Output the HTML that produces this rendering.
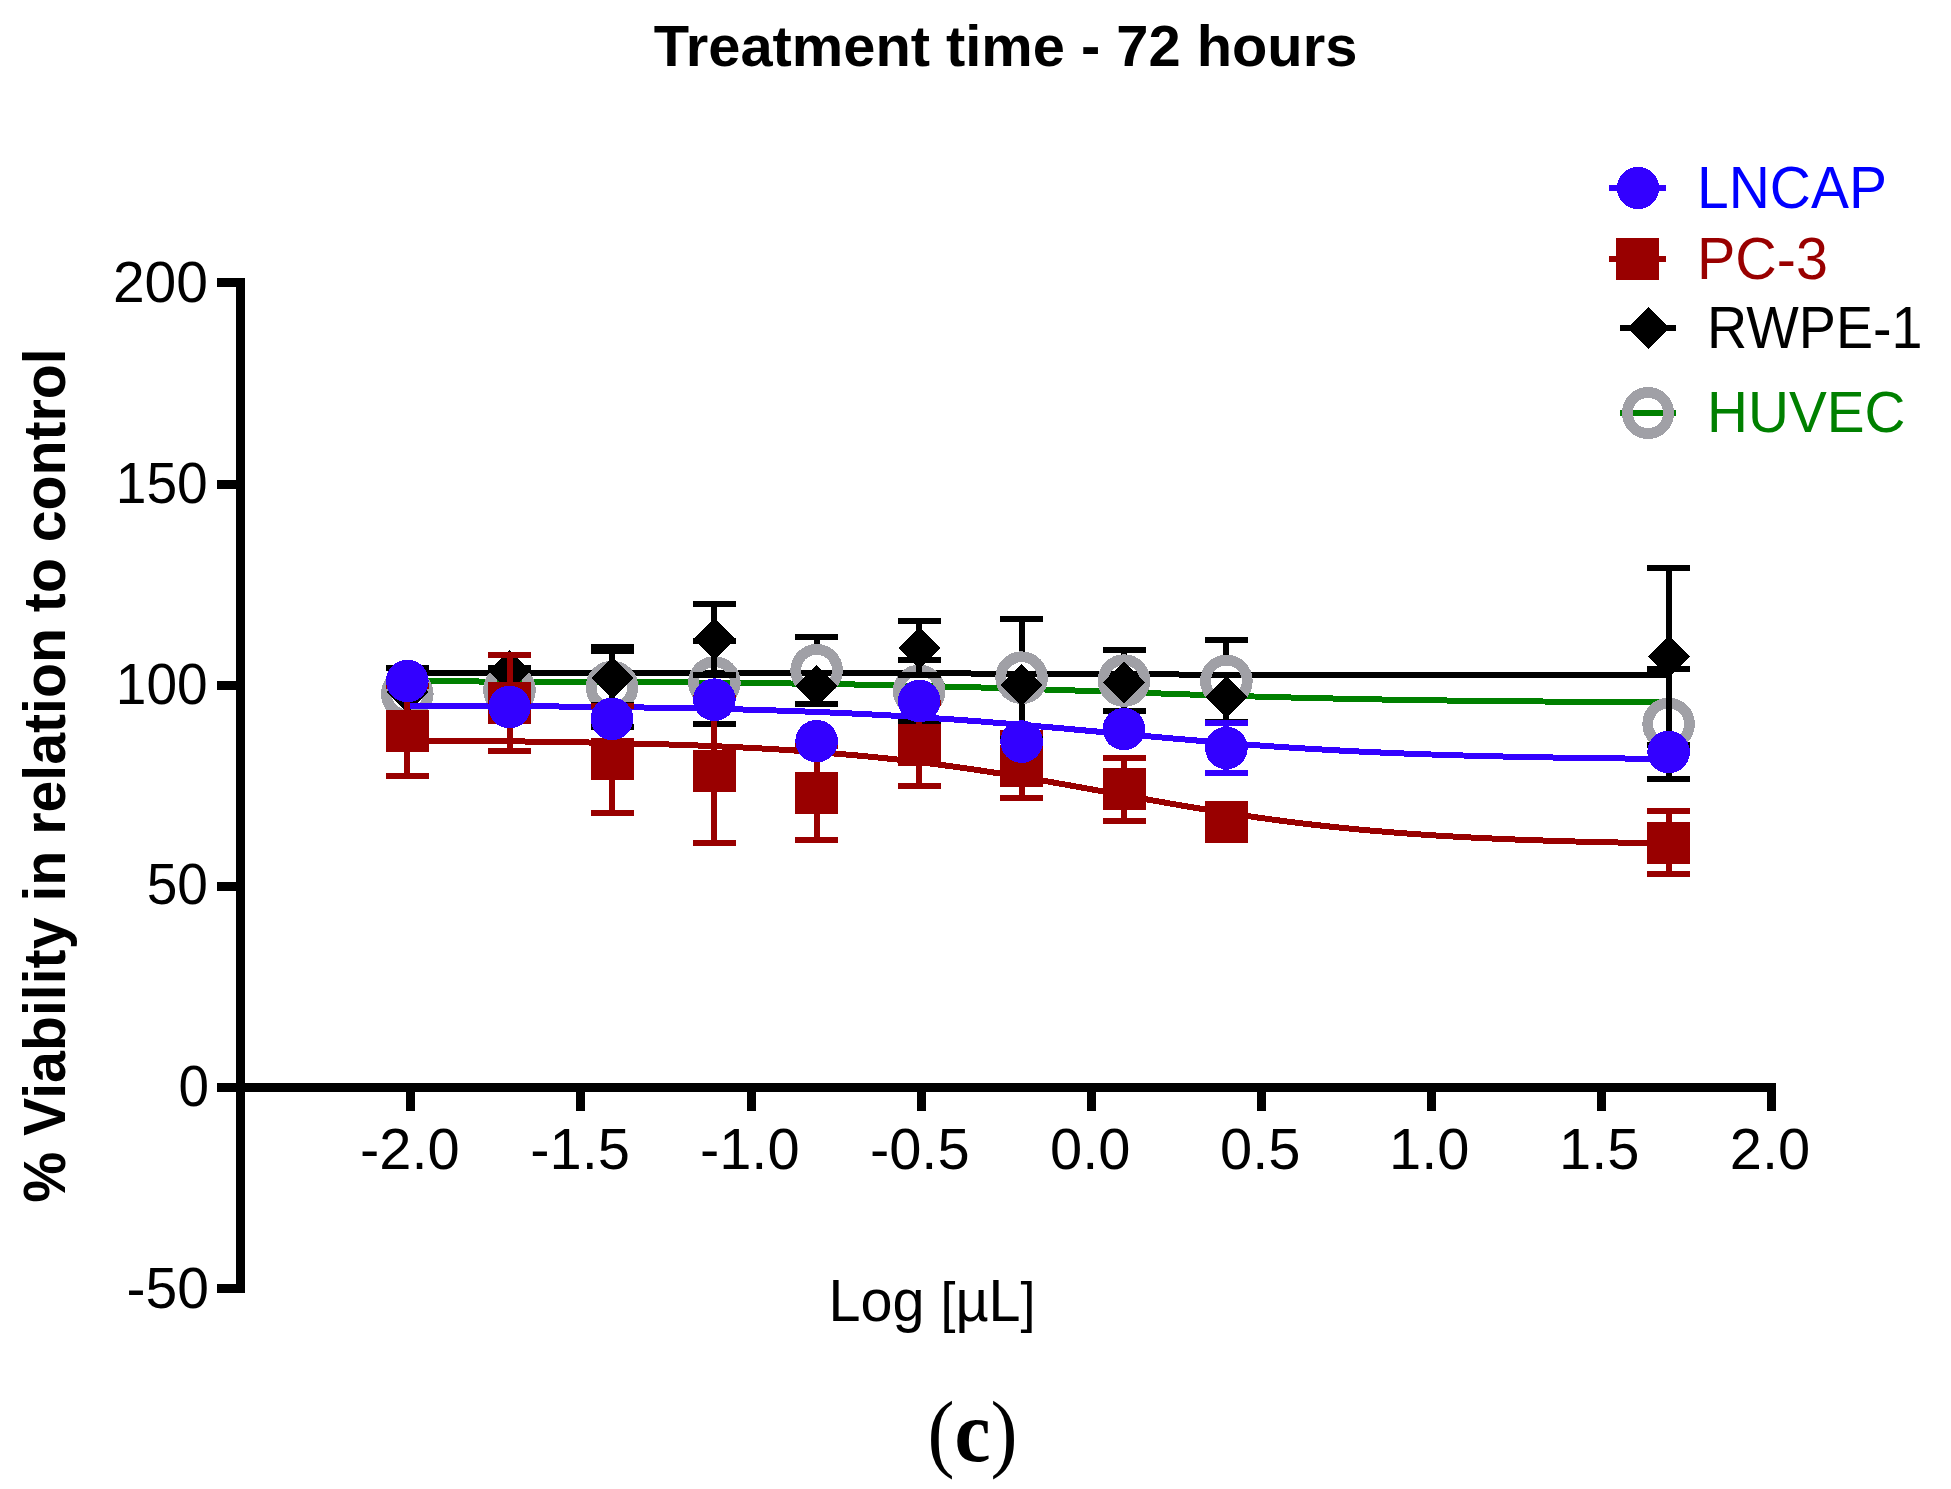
<!DOCTYPE html>
<html><head><meta charset="utf-8"><title>Treatment time - 72 hours</title>
<style>
html,body{margin:0;padding:0;background:#fff;overflow:hidden;}
svg{display:block;}
rect,circle,path{shape-rendering:crispEdges;}
text{font-family:"Liberation Sans",Arial,sans-serif;}
.tk{font-size:57px;}
.lg{font-size:57px;}
.ttl{font-size:58px;font-weight:bold;}
.yl{font-size:58px;font-weight:bold;}
.xl{font-size:59.6px;}
.pc{font-family:"Liberation Serif","Times New Roman",serif;font-size:91px;}
</style></head>
<body>
<svg width="1951" height="1489" viewBox="0 0 1951 1489">
<rect width="1951" height="1489" fill="#fff"/>
<g transform="matrix(0.99716,0,0,1.00000,4.852,0.000)"><text x="1003.5" y="66" text-anchor="middle" class="ttl">Treatment time - 72 hours</text></g>
<g transform="matrix(1.00000,0,0,1.02500,-5.000,-5.200)"><text x="1702" y="208" text-anchor="start" class="lg" fill="#0000ff">LNCAP</text></g>
<g transform="matrix(1.00820,0,0,1.02500,-18.992,-6.975)"><text x="1702" y="279" text-anchor="start" class="lg" fill="#990000">PC-3</text></g>
<g transform="matrix(0.97653,0,0,1.02500,35.305,-8.700)"><text x="1712" y="348" text-anchor="start" class="lg" fill="#000000">RWPE-1</text></g>
<g transform="matrix(0.99479,0,0,1.01220,3.943,-6.293)"><text x="1712" y="433" text-anchor="start" class="lg" fill="#008000">HUVEC</text></g>
<g transform="matrix(1.00000,0,0,1.00000,1.000,0.000)"><text x="207" y="301.5" text-anchor="end" class="tk">200</text></g>
<g transform="matrix(0.96742,0,0,0.99500,7.480,2.315)"><text x="207" y="503" text-anchor="end" class="tk">150</text></g>
<g transform="matrix(0.96629,0,0,1.00000,7.710,0.000)"><text x="207" y="704.5" text-anchor="end" class="tk">100</text></g>
<g transform="matrix(0.96610,0,0,1.00000,7.949,-1.000)"><text x="207" y="905.5" text-anchor="end" class="tk">50</text></g>
<g transform="matrix(0.96296,0,0,1.00000,9.593,0.000)"><text x="207" y="1106.5" text-anchor="end" class="tk">0</text></g>
<g transform="matrix(1.00000,0,0,1.00000,2.000,0.000)"><text x="207" y="1307.5" text-anchor="end" class="tk">-50</text></g>
<g transform="matrix(1.01505,0,0,1.00250,-6.880,-2.922)"><text x="410.5" y="1169" text-anchor="middle" class="tk">-2.0</text></g>
<g transform="matrix(1.01505,0,0,1.00250,-9.239,-2.922)"><text x="580.7" y="1169" text-anchor="middle" class="tk">-1.5</text></g>
<g transform="matrix(1.01505,0,0,1.00250,-12.513,-2.922)"><text x="751" y="1169" text-anchor="middle" class="tk">-1.0</text></g>
<g transform="matrix(1.01505,0,0,1.00250,-15.072,-2.922)"><text x="921" y="1169" text-anchor="middle" class="tk">-0.5</text></g>
<g transform="matrix(1.01505,0,0,1.00250,-17.124,-2.922)"><text x="1091" y="1169" text-anchor="middle" class="tk">0.0</text></g>
<g transform="matrix(1.01505,0,0,1.00250,-19.683,-2.922)"><text x="1261" y="1169" text-anchor="middle" class="tk">0.5</text></g>
<g transform="matrix(1.01505,0,0,1.00250,-23.257,-2.922)"><text x="1431" y="1169" text-anchor="middle" class="tk">1.0</text></g>
<g transform="matrix(1.01505,0,0,1.00250,-25.816,-2.922)"><text x="1601" y="1169" text-anchor="middle" class="tk">1.5</text></g>
<g transform="matrix(1.01505,0,0,1.00250,-27.975,-2.922)"><text x="1771.4" y="1169" text-anchor="middle" class="tk">2.0</text></g>
<g transform="matrix(1.02593,0,0,0.98721,-1.596,9.438)"><text transform="translate(65,776) rotate(-90)" text-anchor="middle" class="yl">% Viability in relation to control</text></g>
<g transform="matrix(0.96602,0,0,0.98113,31.204,24.170)"><text x="932.5" y="1322" text-anchor="middle" class="xl">Log <tspan style="font-size:55.8px">[</tspan>µL<tspan style="font-size:55.8px">]</tspan></text></g>
<g transform="matrix(0.89247,0,0,0.95122,104.570,70.244)"><text x="972.5" y="1462" text-anchor="middle" class="pc">(<tspan font-weight="bold">c</tspan>)</text></g>
<rect x="236" y="278" width="9" height="1015" fill="#000"/>
<rect x="217" y="1083" width="1559" height="9" fill="#000"/>
<rect x="217" y="278.0" width="28" height="9" fill="#000"/>
<rect x="217" y="479.5" width="28" height="9" fill="#000"/>
<rect x="217" y="681.0" width="28" height="9" fill="#000"/>
<rect x="217" y="882.0" width="28" height="9" fill="#000"/>
<rect x="217" y="1083.0" width="28" height="9" fill="#000"/>
<rect x="217" y="1284.0" width="28" height="9" fill="#000"/>
<rect x="406.0" y="1083" width="9" height="28" fill="#000"/>
<rect x="576.2" y="1083" width="9" height="28" fill="#000"/>
<rect x="746.5" y="1083" width="9" height="28" fill="#000"/>
<rect x="916.5" y="1083" width="9" height="28" fill="#000"/>
<rect x="1086.5" y="1083" width="9" height="28" fill="#000"/>
<rect x="1256.5" y="1083" width="9" height="28" fill="#000"/>
<rect x="1426.5" y="1083" width="9" height="28" fill="#000"/>
<rect x="1596.5" y="1083" width="9" height="28" fill="#000"/>
<rect x="1766.9" y="1083" width="9" height="28" fill="#000"/>
<path d="M407.3,681.38 L415.3,681.39 L423.3,681.40 L431.3,681.41 L439.3,681.42 L447.3,681.44 L455.3,681.45 L463.3,681.47 L471.3,681.48 L479.3,681.50 L487.3,681.52 L495.3,681.54 L503.3,681.56 L511.3,681.58 L519.3,681.60 L527.3,681.62 L535.3,681.65 L543.3,681.67 L551.3,681.70 L559.3,681.73 L567.3,681.76 L575.3,681.79 L583.3,681.82 L591.3,681.85 L599.3,681.89 L607.3,681.93 L615.3,681.97 L623.3,682.01 L631.3,682.05 L639.3,682.10 L647.3,682.14 L655.3,682.19 L663.3,682.25 L671.3,682.30 L679.3,682.36 L687.3,682.42 L695.3,682.48 L703.3,682.55 L711.3,682.62 L719.3,682.69 L727.3,682.76 L735.3,682.84 L743.3,682.93 L751.3,683.01 L759.3,683.10 L767.3,683.19 L775.3,683.29 L783.3,683.39 L791.3,683.50 L799.3,683.61 L807.3,683.73 L815.3,683.85 L823.3,683.97 L831.3,684.10 L839.3,684.23 L847.3,684.37 L855.3,684.52 L863.3,684.67 L871.3,684.82 L879.3,684.98 L887.3,685.15 L895.3,685.32 L903.3,685.50 L911.3,685.68 L919.3,685.87 L927.3,686.06 L935.3,686.26 L943.3,686.46 L951.3,686.68 L959.3,686.89 L967.3,687.11 L975.3,687.34 L983.3,687.57 L991.3,687.81 L999.3,688.05 L1007.3,688.29 L1015.3,688.54 L1023.3,688.80 L1031.3,689.05 L1039.3,689.32 L1047.3,689.58 L1055.3,689.85 L1063.3,690.12 L1071.3,690.39 L1079.3,690.67 L1087.3,690.95 L1095.3,691.22 L1103.3,691.50 L1111.3,691.78 L1119.3,692.06 L1127.3,692.34 L1135.3,692.62 L1143.3,692.90 L1151.3,693.18 L1159.3,693.46 L1167.3,693.73 L1175.3,694.00 L1183.3,694.27 L1191.3,694.54 L1199.3,694.80 L1207.3,695.06 L1215.3,695.32 L1223.3,695.57 L1231.3,695.81 L1239.3,696.06 L1247.3,696.29 L1255.3,696.53 L1263.3,696.76 L1271.3,696.98 L1279.3,697.20 L1287.3,697.41 L1295.3,697.61 L1303.3,697.82 L1311.3,698.01 L1319.3,698.20 L1327.3,698.39 L1335.3,698.56 L1343.3,698.74 L1351.3,698.90 L1359.3,699.07 L1367.3,699.22 L1375.3,699.38 L1383.3,699.52 L1391.3,699.66 L1399.3,699.80 L1407.3,699.93 L1415.3,700.06 L1423.3,700.18 L1431.3,700.29 L1439.3,700.40 L1447.3,700.51 L1455.3,700.62 L1463.3,700.71 L1471.3,700.81 L1479.3,700.90 L1487.3,700.99 L1495.3,701.07 L1503.3,701.15 L1511.3,701.23 L1519.3,701.30 L1527.3,701.37 L1535.3,701.44 L1543.3,701.50 L1551.3,701.56 L1559.3,701.62 L1567.3,701.68 L1575.3,701.73 L1583.3,701.78 L1591.3,701.83 L1599.3,701.87 L1607.3,701.92 L1615.3,701.96 L1623.3,702.00 L1631.3,702.04 L1639.3,702.07 L1647.3,702.11 L1655.3,702.14 L1663.3,702.17 L1668.6,702.19" fill="none" stroke="#008000" stroke-width="6"/>
<path d="M407.3,672.74 L415.3,672.74 L423.3,672.74 L431.3,672.74 L439.3,672.74 L447.3,672.74 L455.3,672.74 L463.3,672.74 L471.3,672.74 L479.3,672.74 L487.3,672.74 L495.3,672.74 L503.3,672.74 L511.3,672.75 L519.3,672.75 L527.3,672.75 L535.3,672.75 L543.3,672.75 L551.3,672.75 L559.3,672.75 L567.3,672.76 L575.3,672.76 L583.3,672.76 L591.3,672.76 L599.3,672.77 L607.3,672.77 L615.3,672.77 L623.3,672.77 L631.3,672.78 L639.3,672.78 L647.3,672.78 L655.3,672.79 L663.3,672.79 L671.3,672.80 L679.3,672.80 L687.3,672.81 L695.3,672.82 L703.3,672.82 L711.3,672.83 L719.3,672.84 L727.3,672.84 L735.3,672.85 L743.3,672.86 L751.3,672.87 L759.3,672.88 L767.3,672.89 L775.3,672.90 L783.3,672.92 L791.3,672.93 L799.3,672.94 L807.3,672.96 L815.3,672.97 L823.3,672.99 L831.3,673.01 L839.3,673.03 L847.3,673.05 L855.3,673.07 L863.3,673.09 L871.3,673.12 L879.3,673.14 L887.3,673.17 L895.3,673.19 L903.3,673.22 L911.3,673.25 L919.3,673.28 L927.3,673.31 L935.3,673.35 L943.3,673.38 L951.3,673.42 L959.3,673.45 L967.3,673.49 L975.3,673.53 L983.3,673.57 L991.3,673.61 L999.3,673.65 L1007.3,673.69 L1015.3,673.73 L1023.3,673.77 L1031.3,673.82 L1039.3,673.86 L1047.3,673.90 L1055.3,673.94 L1063.3,673.98 L1071.3,674.03 L1079.3,674.07 L1087.3,674.11 L1095.3,674.15 L1103.3,674.19 L1111.3,674.22 L1119.3,674.26 L1127.3,674.30 L1135.3,674.33 L1143.3,674.37 L1151.3,674.40 L1159.3,674.43 L1167.3,674.46 L1175.3,674.49 L1183.3,674.52 L1191.3,674.54 L1199.3,674.57 L1207.3,674.59 L1215.3,674.62 L1223.3,674.64 L1231.3,674.66 L1239.3,674.68 L1247.3,674.70 L1255.3,674.72 L1263.3,674.73 L1271.3,674.75 L1279.3,674.76 L1287.3,674.78 L1295.3,674.79 L1303.3,674.80 L1311.3,674.81 L1319.3,674.82 L1327.3,674.83 L1335.3,674.84 L1343.3,674.85 L1351.3,674.86 L1359.3,674.87 L1367.3,674.87 L1375.3,674.88 L1383.3,674.89 L1391.3,674.89 L1399.3,674.90 L1407.3,674.90 L1415.3,674.91 L1423.3,674.91 L1431.3,674.92 L1439.3,674.92 L1447.3,674.92 L1455.3,674.93 L1463.3,674.93 L1471.3,674.93 L1479.3,674.94 L1487.3,674.94 L1495.3,674.94 L1503.3,674.94 L1511.3,674.94 L1519.3,674.95 L1527.3,674.95 L1535.3,674.95 L1543.3,674.95 L1551.3,674.95 L1559.3,674.95 L1567.3,674.95 L1575.3,674.96 L1583.3,674.96 L1591.3,674.96 L1599.3,674.96 L1607.3,674.96 L1615.3,674.96 L1623.3,674.96 L1631.3,674.96 L1639.3,674.96 L1647.3,674.96 L1655.3,674.96 L1663.3,674.96 L1668.6,674.96" fill="none" stroke="#000000" stroke-width="6"/>
<circle cx="407.3" cy="694" r="20.9" fill="none" stroke="#a0a0a6" stroke-width="10.8"/>
<rect x="506.50" y="668.00" width="6" height="4.00" fill="#000000"/><rect x="488.00" y="665.00" width="43" height="6" fill="#000000"/><rect x="506.50" y="708.00" width="6" height="4.00" fill="#000000"/><rect x="488.00" y="709.00" width="43" height="6" fill="#000000"/>
<circle cx="509.5" cy="690" r="20.9" fill="none" stroke="#a0a0a6" stroke-width="10.8"/>
<rect x="609.00" y="647.00" width="6" height="22.00" fill="#000000"/><rect x="590.50" y="644.00" width="43" height="6" fill="#000000"/><rect x="609.00" y="705.00" width="6" height="22.00" fill="#000000"/><rect x="590.50" y="724.00" width="43" height="6" fill="#000000"/>
<circle cx="612" cy="687" r="20.9" fill="none" stroke="#a0a0a6" stroke-width="10.8"/>
<rect x="711.40" y="641.20" width="6" height="23.30" fill="#000000"/><rect x="692.90" y="638.20" width="43" height="6" fill="#000000"/><rect x="711.40" y="700.50" width="6" height="23.30" fill="#000000"/><rect x="692.90" y="720.80" width="43" height="6" fill="#000000"/>
<circle cx="714.4" cy="682.5" r="20.9" fill="none" stroke="#a0a0a6" stroke-width="10.8"/>
<rect x="813.60" y="636.80" width="6" height="15.50" fill="#000000"/><rect x="795.10" y="633.80" width="43" height="6" fill="#000000"/><rect x="813.60" y="688.30" width="6" height="15.50" fill="#000000"/><rect x="795.10" y="700.80" width="43" height="6" fill="#000000"/>
<circle cx="816.6" cy="670.3" r="20.9" fill="none" stroke="#a0a0a6" stroke-width="10.8"/>
<rect x="916.20" y="660.00" width="6" height="13.00" fill="#000000"/><rect x="897.70" y="657.00" width="43" height="6" fill="#000000"/><rect x="916.20" y="709.00" width="6" height="13.00" fill="#000000"/><rect x="897.70" y="719.00" width="43" height="6" fill="#000000"/>
<circle cx="919.2" cy="691" r="20.9" fill="none" stroke="#a0a0a6" stroke-width="10.8"/>
<rect x="1018.60" y="619.00" width="6" height="40.70" fill="#000000"/><rect x="1000.10" y="616.00" width="43" height="6" fill="#000000"/><rect x="1018.60" y="695.70" width="6" height="40.70" fill="#000000"/><rect x="1000.10" y="733.40" width="43" height="6" fill="#000000"/>
<circle cx="1021.6" cy="677.7" r="20.9" fill="none" stroke="#a0a0a6" stroke-width="10.8"/>
<rect x="1121.00" y="650.10" width="6" height="12.50" fill="#000000"/><rect x="1102.50" y="647.10" width="43" height="6" fill="#000000"/><rect x="1121.00" y="698.60" width="6" height="12.50" fill="#000000"/><rect x="1102.50" y="708.10" width="43" height="6" fill="#000000"/>
<circle cx="1124" cy="680.6" r="20.9" fill="none" stroke="#a0a0a6" stroke-width="10.8"/>
<rect x="1223.40" y="640.00" width="6" height="23.00" fill="#000000"/><rect x="1204.90" y="637.00" width="43" height="6" fill="#000000"/><rect x="1223.40" y="699.00" width="6" height="23.00" fill="#000000"/><rect x="1204.90" y="719.00" width="43" height="6" fill="#000000"/>
<circle cx="1226.4" cy="681" r="20.9" fill="none" stroke="#a0a0a6" stroke-width="10.8"/>
<rect x="1665.60" y="669.00" width="6" height="37.00" fill="#000000"/><rect x="1647.10" y="666.00" width="43" height="6" fill="#000000"/><rect x="1665.60" y="742.00" width="6" height="37.00" fill="#000000"/><rect x="1647.10" y="776.00" width="43" height="6" fill="#000000"/>
<circle cx="1668.6" cy="724" r="20.9" fill="none" stroke="#a0a0a6" stroke-width="10.8"/>
<rect x="404.30" y="668.00" width="6" height="6.20" fill="#000000"/><rect x="385.80" y="665.00" width="43" height="6" fill="#000000"/><rect x="404.30" y="710.20" width="6" height="6.20" fill="#000000"/><rect x="385.80" y="713.40" width="43" height="6" fill="#000000"/>
<path d="M407.3,671.2 L428.3,692.2 L407.3,713.2 L386.3,692.2 Z" fill="#000000"/>
<path d="M509.5,650 L530.5,671 L509.5,692 L488.5,671 Z" fill="#000000"/>
<rect x="609.00" y="651.00" width="6" height="9.00" fill="#000000"/><rect x="590.50" y="648.00" width="43" height="6" fill="#000000"/><rect x="609.00" y="696.00" width="6" height="9.00" fill="#000000"/><rect x="590.50" y="702.00" width="43" height="6" fill="#000000"/>
<path d="M612,657 L633,678 L612,699 L591,678 Z" fill="#000000"/>
<rect x="711.40" y="603.60" width="6" height="17.70" fill="#000000"/><rect x="692.90" y="600.60" width="43" height="6" fill="#000000"/><rect x="711.40" y="657.30" width="6" height="17.70" fill="#000000"/><rect x="692.90" y="672.00" width="43" height="6" fill="#000000"/>
<path d="M714.4,618.3 L735.4,639.3 L714.4,660.3 L693.4,639.3 Z" fill="#000000"/>
<path d="M816.6,665 L837.6,686 L816.6,707 L795.6,686 Z" fill="#000000"/>
<rect x="916.20" y="621.10" width="6" height="8.80" fill="#000000"/><rect x="897.70" y="618.10" width="43" height="6" fill="#000000"/><rect x="916.20" y="665.90" width="6" height="8.80" fill="#000000"/><rect x="897.70" y="671.70" width="43" height="6" fill="#000000"/>
<path d="M919.2,626.9 L940.2,647.9 L919.2,668.9 L898.2,647.9 Z" fill="#000000"/>
<path d="M1021.6,664 L1042.6,685 L1021.6,706 L1000.6,685 Z" fill="#000000"/>
<path d="M1124,661.5 L1145,682.5 L1124,703.5 L1103,682.5 Z" fill="#000000"/>
<path d="M1226.4,676 L1247.4,697 L1226.4,718 L1205.4,697 Z" fill="#000000"/>
<rect x="1665.60" y="568.00" width="6" height="70.50" fill="#000000"/><rect x="1647.10" y="565.00" width="43" height="6" fill="#000000"/><rect x="1665.60" y="674.50" width="6" height="70.50" fill="#000000"/><rect x="1647.10" y="742.00" width="43" height="6" fill="#000000"/>
<path d="M1668.6,635.5 L1689.6,656.5 L1668.6,677.5 L1647.6,656.5 Z" fill="#000000"/>
<path d="M407.3,740.48 L415.3,740.53 L423.3,740.58 L431.3,740.63 L439.3,740.69 L447.3,740.74 L455.3,740.81 L463.3,740.87 L471.3,740.94 L479.3,741.01 L487.3,741.09 L495.3,741.17 L503.3,741.25 L511.3,741.34 L519.3,741.44 L527.3,741.54 L535.3,741.64 L543.3,741.75 L551.3,741.87 L559.3,741.99 L567.3,742.12 L575.3,742.26 L583.3,742.40 L591.3,742.55 L599.3,742.71 L607.3,742.88 L615.3,743.06 L623.3,743.24 L631.3,743.44 L639.3,743.64 L647.3,743.86 L655.3,744.09 L663.3,744.33 L671.3,744.58 L679.3,744.85 L687.3,745.13 L695.3,745.42 L703.3,745.73 L711.3,746.05 L719.3,746.39 L727.3,746.75 L735.3,747.12 L743.3,747.52 L751.3,747.93 L759.3,748.36 L767.3,748.81 L775.3,749.28 L783.3,749.77 L791.3,750.29 L799.3,750.83 L807.3,751.39 L815.3,751.98 L823.3,752.59 L831.3,753.23 L839.3,753.89 L847.3,754.59 L855.3,755.31 L863.3,756.06 L871.3,756.84 L879.3,757.65 L887.3,758.48 L895.3,759.35 L903.3,760.25 L911.3,761.18 L919.3,762.14 L927.3,763.13 L935.3,764.16 L943.3,765.21 L951.3,766.29 L959.3,767.41 L967.3,768.55 L975.3,769.72 L983.3,770.92 L991.3,772.15 L999.3,773.41 L1007.3,774.69 L1015.3,775.99 L1023.3,777.32 L1031.3,778.66 L1039.3,780.03 L1047.3,781.42 L1055.3,782.82 L1063.3,784.24 L1071.3,785.67 L1079.3,787.10 L1087.3,788.55 L1095.3,790.01 L1103.3,791.46 L1111.3,792.92 L1119.3,794.38 L1127.3,795.84 L1135.3,797.29 L1143.3,798.73 L1151.3,800.17 L1159.3,801.59 L1167.3,803.01 L1175.3,804.40 L1183.3,805.78 L1191.3,807.14 L1199.3,808.48 L1207.3,809.80 L1215.3,811.09 L1223.3,812.36 L1231.3,813.61 L1239.3,814.82 L1247.3,816.01 L1255.3,817.17 L1263.3,818.31 L1271.3,819.41 L1279.3,820.48 L1287.3,821.52 L1295.3,822.53 L1303.3,823.51 L1311.3,824.46 L1319.3,825.38 L1327.3,826.26 L1335.3,827.12 L1343.3,827.95 L1351.3,828.74 L1359.3,829.51 L1367.3,830.25 L1375.3,830.96 L1383.3,831.64 L1391.3,832.30 L1399.3,832.93 L1407.3,833.53 L1415.3,834.11 L1423.3,834.66 L1431.3,835.19 L1439.3,835.70 L1447.3,836.18 L1455.3,836.64 L1463.3,837.09 L1471.3,837.51 L1479.3,837.91 L1487.3,838.30 L1495.3,838.66 L1503.3,839.01 L1511.3,839.35 L1519.3,839.66 L1527.3,839.97 L1535.3,840.25 L1543.3,840.53 L1551.3,840.79 L1559.3,841.04 L1567.3,841.27 L1575.3,841.50 L1583.3,841.71 L1591.3,841.91 L1599.3,842.10 L1607.3,842.29 L1615.3,842.46 L1623.3,842.62 L1631.3,842.78 L1639.3,842.93 L1647.3,843.07 L1655.3,843.20 L1663.3,843.33 L1668.6,843.41" fill="none" stroke="#990000" stroke-width="6"/>
<path d="M407.3,705.66 L415.3,705.69 L423.3,705.72 L431.3,705.75 L439.3,705.78 L447.3,705.81 L455.3,705.85 L463.3,705.88 L471.3,705.92 L479.3,705.96 L487.3,706.01 L495.3,706.05 L503.3,706.10 L511.3,706.15 L519.3,706.20 L527.3,706.26 L535.3,706.32 L543.3,706.38 L551.3,706.44 L559.3,706.51 L567.3,706.58 L575.3,706.66 L583.3,706.74 L591.3,706.82 L599.3,706.91 L607.3,707.01 L615.3,707.10 L623.3,707.21 L631.3,707.31 L639.3,707.43 L647.3,707.55 L655.3,707.67 L663.3,707.80 L671.3,707.94 L679.3,708.09 L687.3,708.24 L695.3,708.40 L703.3,708.56 L711.3,708.74 L719.3,708.92 L727.3,709.11 L735.3,709.31 L743.3,709.52 L751.3,709.74 L759.3,709.97 L767.3,710.22 L775.3,710.47 L783.3,710.73 L791.3,711.00 L799.3,711.29 L807.3,711.59 L815.3,711.90 L823.3,712.22 L831.3,712.56 L839.3,712.91 L847.3,713.27 L855.3,713.65 L863.3,714.04 L871.3,714.45 L879.3,714.87 L887.3,715.30 L895.3,715.75 L903.3,716.22 L911.3,716.70 L919.3,717.20 L927.3,717.71 L935.3,718.24 L943.3,718.78 L951.3,719.34 L959.3,719.91 L967.3,720.50 L975.3,721.10 L983.3,721.71 L991.3,722.34 L999.3,722.98 L1007.3,723.63 L1015.3,724.29 L1023.3,724.97 L1031.3,725.65 L1039.3,726.35 L1047.3,727.05 L1055.3,727.76 L1063.3,728.48 L1071.3,729.20 L1079.3,729.93 L1087.3,730.66 L1095.3,731.40 L1103.3,732.14 L1111.3,732.87 L1119.3,733.61 L1127.3,734.35 L1135.3,735.08 L1143.3,735.81 L1151.3,736.54 L1159.3,737.26 L1167.3,737.97 L1175.3,738.68 L1183.3,739.38 L1191.3,740.07 L1199.3,740.75 L1207.3,741.42 L1215.3,742.07 L1223.3,742.72 L1231.3,743.35 L1239.3,743.97 L1247.3,744.58 L1255.3,745.17 L1263.3,745.75 L1271.3,746.31 L1279.3,746.86 L1287.3,747.40 L1295.3,747.92 L1303.3,748.42 L1311.3,748.91 L1319.3,749.38 L1327.3,749.84 L1335.3,750.28 L1343.3,750.71 L1351.3,751.12 L1359.3,751.52 L1367.3,751.91 L1375.3,752.28 L1383.3,752.63 L1391.3,752.98 L1399.3,753.31 L1407.3,753.62 L1415.3,753.93 L1423.3,754.22 L1431.3,754.50 L1439.3,754.76 L1447.3,755.02 L1455.3,755.27 L1463.3,755.50 L1471.3,755.73 L1479.3,755.94 L1487.3,756.15 L1495.3,756.34 L1503.3,756.53 L1511.3,756.71 L1519.3,756.88 L1527.3,757.04 L1535.3,757.20 L1543.3,757.34 L1551.3,757.48 L1559.3,757.62 L1567.3,757.75 L1575.3,757.87 L1583.3,757.98 L1591.3,758.09 L1599.3,758.20 L1607.3,758.30 L1615.3,758.39 L1623.3,758.49 L1631.3,758.57 L1639.3,758.65 L1647.3,758.73 L1655.3,758.80 L1663.3,758.87 L1668.6,758.92" fill="none" stroke="#3300ff" stroke-width="6"/>
<rect x="404.30" y="685.90" width="6" height="27.00" fill="#990000"/><rect x="385.80" y="682.90" width="43" height="6" fill="#990000"/><rect x="404.30" y="748.90" width="6" height="27.00" fill="#990000"/><rect x="385.80" y="772.90" width="43" height="6" fill="#990000"/>
<rect x="385.80" y="709.90" width="43" height="42" fill="#990000"/>
<rect x="506.50" y="655.30" width="6" height="29.70" fill="#990000"/><rect x="488.00" y="652.30" width="43" height="6" fill="#990000"/><rect x="506.50" y="721.00" width="6" height="29.70" fill="#990000"/><rect x="488.00" y="747.70" width="43" height="6" fill="#990000"/>
<rect x="488.00" y="682.00" width="43" height="42" fill="#990000"/>
<rect x="609.00" y="705.70" width="6" height="35.50" fill="#990000"/><rect x="590.50" y="702.70" width="43" height="6" fill="#990000"/><rect x="609.00" y="777.20" width="6" height="35.50" fill="#990000"/><rect x="590.50" y="809.70" width="43" height="6" fill="#990000"/>
<rect x="590.50" y="738.20" width="43" height="42" fill="#990000"/>
<rect x="711.40" y="697.60" width="6" height="54.90" fill="#990000"/><rect x="692.90" y="694.60" width="43" height="6" fill="#990000"/><rect x="711.40" y="788.50" width="6" height="54.90" fill="#990000"/><rect x="692.90" y="840.40" width="43" height="6" fill="#990000"/>
<rect x="692.90" y="749.50" width="43" height="42" fill="#990000"/>
<rect x="813.60" y="746.20" width="6" height="28.90" fill="#990000"/><rect x="795.10" y="743.20" width="43" height="6" fill="#990000"/><rect x="813.60" y="811.10" width="6" height="28.90" fill="#990000"/><rect x="795.10" y="837.00" width="43" height="6" fill="#990000"/>
<rect x="795.10" y="772.10" width="43" height="42" fill="#990000"/>
<rect x="916.20" y="703.00" width="6" height="23.50" fill="#990000"/><rect x="897.70" y="700.00" width="43" height="6" fill="#990000"/><rect x="916.20" y="762.50" width="6" height="23.50" fill="#990000"/><rect x="897.70" y="783.00" width="43" height="6" fill="#990000"/>
<rect x="897.70" y="723.50" width="43" height="42" fill="#990000"/>
<rect x="1018.60" y="733.00" width="6" height="14.70" fill="#990000"/><rect x="1000.10" y="730.00" width="43" height="6" fill="#990000"/><rect x="1018.60" y="783.70" width="6" height="14.70" fill="#990000"/><rect x="1000.10" y="795.40" width="43" height="6" fill="#990000"/>
<rect x="1000.10" y="744.70" width="43" height="42" fill="#990000"/>
<rect x="1121.00" y="757.90" width="6" height="13.40" fill="#990000"/><rect x="1102.50" y="754.90" width="43" height="6" fill="#990000"/><rect x="1121.00" y="807.30" width="6" height="13.40" fill="#990000"/><rect x="1102.50" y="817.70" width="43" height="6" fill="#990000"/>
<rect x="1102.50" y="768.30" width="43" height="42" fill="#990000"/>
<rect x="1204.90" y="800.90" width="43" height="42" fill="#990000"/>
<rect x="1665.60" y="811.00" width="6" height="13.50" fill="#990000"/><rect x="1647.10" y="808.00" width="43" height="6" fill="#990000"/><rect x="1665.60" y="860.50" width="6" height="13.50" fill="#990000"/><rect x="1647.10" y="871.00" width="43" height="6" fill="#990000"/>
<rect x="1647.10" y="821.50" width="43" height="42" fill="#990000"/>
<circle cx="407.3" cy="681" r="21.3" fill="#3300ff"/>
<circle cx="509.5" cy="707" r="21.3" fill="#3300ff"/>
<circle cx="612" cy="718.8" r="21.3" fill="#3300ff"/>
<circle cx="714.4" cy="699.7" r="21.3" fill="#3300ff"/>
<circle cx="816.6" cy="741.2" r="21.3" fill="#3300ff"/>
<circle cx="919.2" cy="701" r="21.3" fill="#3300ff"/>
<circle cx="1021.6" cy="741.6" r="21.3" fill="#3300ff"/>
<circle cx="1124" cy="729" r="21.3" fill="#3300ff"/>
<rect x="1223.40" y="722.80" width="6" height="7.20" fill="#3300ff"/><rect x="1204.90" y="719.80" width="43" height="6" fill="#3300ff"/><rect x="1223.40" y="766.00" width="6" height="7.20" fill="#3300ff"/><rect x="1204.90" y="770.20" width="43" height="6" fill="#3300ff"/>
<circle cx="1226.4" cy="748" r="21.3" fill="#3300ff"/>
<circle cx="1668.6" cy="752" r="21.3" fill="#3300ff"/>
<rect x="1609" y="185" width="57" height="6" fill="#3300ff"/><circle cx="1638" cy="188" r="21.2" fill="#3300ff"/>
<rect x="1609" y="256" width="57" height="6" fill="#990000"/><rect x="1616" y="238" width="43" height="42" fill="#990000"/>
<rect x="1620" y="325" width="56" height="6" fill="#000"/><path d="M1648,307 L1669,328 L1648,349 L1627,328 Z" fill="#000"/>
<rect x="1620" y="410" width="56" height="6" fill="#008000"/><circle cx="1648" cy="413" r="20.6" fill="none" stroke="#a0a0a6" stroke-width="10.8"/>
</svg>
</body></html>
